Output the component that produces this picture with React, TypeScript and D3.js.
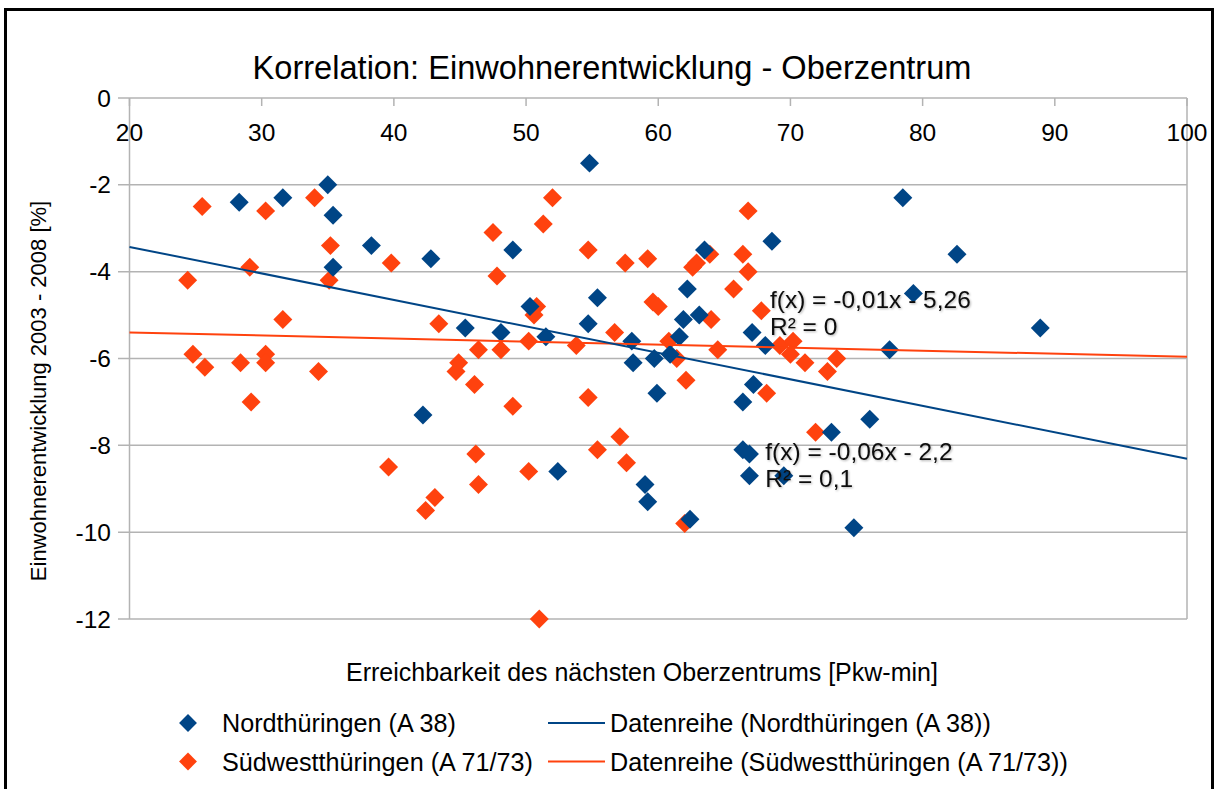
import React from "react";
import * as d3 from "d3";

const chartTitle = "Korrelation: Einwohnerentwicklung - Oberzentrum";
const xTitle = "Erreichbarkeit des nächsten Oberzentrums [Pkw-min]";
const yTitle = "Einwohnerentwicklung 2003 - 2008 [%]";
const xTicks = [20, 30, 40, 50, 60, 70, 80, 90, 100];
const yTicks = [0, -2, -4, -6, -8, -10, -12];

const seriesNames = ["Nordthüringen (A 38)", "Südwestthüringen (A 71/73)"];
const trendNames = ["Datenreihe (Nordthüringen (A 38))", "Datenreihe (Südwestthüringen (A 71/73))"];
const seriesColors = ["#004586", "#ff420e"];

const nordX = [28.3, 31.6, 35.0, 35.4, 38.3, 35.4, 42.8, 49.0, 54.8, 55.4, 50.3, 45.4, 48.1, 54.7, 51.5, 58.0, 58.1, 59.7, 60.9, 61.6, 61.9, 63.1, 62.2, 63.5, 59.9, 42.2, 52.4, 59.0, 59.2, 62.4, 68.6, 67.1, 68.1, 67.2, 66.4, 66.4, 66.9, 66.9, 69.5, 73.1, 76.0, 74.8, 77.5, 78.5, 79.3, 82.6, 88.9];
const nordY = [-2.4, -2.3, -2.0, -2.7, -3.4, -3.9, -3.7, -3.5, -1.5, -4.6, -4.8, -5.3, -5.4, -5.2, -5.5, -5.6, -6.1, -6.0, -5.9, -5.5, -5.1, -5.0, -4.4, -3.5, -6.8, -7.3, -8.6, -8.9, -9.3, -9.7, -3.3, -5.4, -5.7, -6.6, -7.0, -8.1, -8.2, -8.7, -8.7, -7.7, -7.4, -9.9, -5.8, -2.3, -4.5, -3.6, -5.3];

const suedX = [25.5, 30.3, 34.0, 35.2, 39.8, 29.1, 35.1, 24.4, 31.6, 24.8, 25.7, 28.4, 30.3, 30.3, 34.3, 29.2, 39.6, 52.0, 51.3, 47.5, 54.7, 57.5, 59.2, 47.8, 59.6, 60.0, 50.8, 50.6, 43.4, 56.7, 50.2, 53.8, 60.8, 46.4, 48.1, 61.4, 44.9, 44.7, 46.1, 62.1, 54.7, 49.0, 57.1, 55.4, 46.2, 57.6, 50.2, 46.4, 43.1, 42.4, 62.0, 51.0, 66.8, 62.6, 62.9, 63.9, 66.4, 66.8, 65.7, 67.8, 64.0, 64.5, 69.2, 70.2, 70.0, 71.1, 73.5, 72.8, 68.2, 71.9];
const suedY = [-2.5, -2.6, -2.3, -3.4, -3.8, -3.9, -4.2, -4.2, -5.1, -5.9, -6.2, -6.1, -5.9, -6.1, -6.3, -7.0, -8.5, -2.3, -2.9, -3.1, -3.5, -3.8, -3.7, -4.1, -4.7, -4.8, -4.8, -5.0, -5.2, -5.4, -5.6, -5.7, -5.6, -5.8, -5.8, -6.0, -6.1, -6.3, -6.6, -6.5, -6.9, -7.1, -7.8, -8.1, -8.2, -8.4, -8.6, -8.9, -9.2, -9.5, -9.8, -12.0, -2.6, -3.9, -3.8, -3.6, -3.6, -4.0, -4.4, -4.9, -5.1, -5.8, -5.7, -5.6, -5.9, -6.1, -6.0, -6.3, -6.8, -7.7];

const trendSlopes = [-0.061, -0.007];
const trendIntercepts = [-2.21, -5.26];
const equationLines = [
  ["f(x) = -0,06x - 2,2", "R² = 0,1"],
  ["f(x) = -0,01x - 5,26", "R² = 0"],
];
const equationAnchors = [
  [68.1, -8.15],
  [68.45, -4.65],
];

const FONT = "'Liberation Sans', Arial, Helvetica, sans-serif";

export default function App() {
  const x = d3.scaleLinear().domain([20, 100]).range([129.5, 1187]);
  const y = d3.scaleLinear().domain([-12, 0]).range([619, 98]);
  const diamond = d3.symbol().type(d3.symbolSquare).size(180)() as string;
  const legendDiamond = d3.symbol().type(d3.symbolSquare).size(160)() as string;
  const grid = "#b3b3b3";

  const series = [
    { xs: nordX, ys: nordY },
    { xs: suedX, ys: suedY },
  ];
  const drawOrder = [1, 0];

  return (
    <svg
      width={1219}
      height={789}
      style={{ position: "absolute", left: 0, top: 0, background: "#fff" }}
      fontFamily={FONT}
    >
      <defs>
        <filter id="txtShadow" x="-5%" y="-20%" width="110%" height="140%">
          <feDropShadow dx="1" dy="1" stdDeviation="0.8" floodColor="#000" floodOpacity="0.3" />
        </filter>
      </defs>
      <rect x={0} y={0} width={1219} height={789} fill="#fff" />
      <rect x={5.5} y={9.5} width={1207} height={800} fill="none" stroke="#000" strokeWidth={3} />

      <text x={612} y={67} textAnchor="middle" dominantBaseline="central" fontSize={32.6} fill="#000">
        {chartTitle}
      </text>

      {/* gridlines */}
      {yTicks.map((t) => (
        <line key={"g" + t} x1={118} x2={x(100)} y1={y(t)} y2={y(t)} stroke={grid} strokeWidth={1.5} />
      ))}
      <line x1={x(20)} x2={x(20)} y1={y(0)} y2={y(-12)} stroke={grid} strokeWidth={1.5} />
      <line x1={x(100)} x2={x(100)} y1={y(0)} y2={y(-12)} stroke={grid} strokeWidth={1.5} />
      {xTicks.map((t) => (
        <line key={"xt" + t} x1={x(t)} x2={x(t)} y1={y(0)} y2={y(0) + 8} stroke={grid} strokeWidth={1.5} />
      ))}

      {/* tick labels */}
      {yTicks.map((t) => (
        <text key={"yl" + t} x={111} y={y(t)} textAnchor="end" dominantBaseline="central" fontSize={24.5} fill="#000">
          {t === 0 ? "0" : "-" + Math.abs(t)}
        </text>
      ))}
      {xTicks.map((t) => (
        <text key={"xl" + t} x={x(t)} y={132} textAnchor="middle" dominantBaseline="central" fontSize={24.5} fill="#000">
          {t}
        </text>
      ))}

      {/* points */}
      {drawOrder.map((si) =>
        series[si].xs.map((xv, i) => (
          <path
            key={"p" + si + "-" + i}
            d={diamond}
            transform={`translate(${x(xv)},${y(series[si].ys[i])}) rotate(45)`}
            fill={seriesColors[si]}
          />
        ))
      )}

      {/* trend lines */}
      {[1, 0].map((si) => (
        <line
          key={"tr" + si}
          x1={x(20)}
          x2={x(100)}
          y1={y(trendSlopes[si] * 20 + trendIntercepts[si])}
          y2={y(trendSlopes[si] * 100 + trendIntercepts[si])}
          stroke={seriesColors[si]}
          strokeWidth={2}
        />
      ))}

      {/* equations */}
      {equationLines.map((lines, si) => (
        <g key={"eq" + si} filter="url(#txtShadow)">
          {lines.map((ln, j) => (
            <text
              key={j}
              x={x(equationAnchors[si][0])}
              y={y(equationAnchors[si][1]) + j * 27}
              dominantBaseline="central"
              fontSize={24.5}
              fill="#111"
            >
              {ln}
            </text>
          ))}
        </g>
      ))}

      {/* axis titles */}
      <text x={346} y={672} dominantBaseline="central" fontSize={25} fill="#000">
        {xTitle}
      </text>
      <text
        transform={`translate(38,${391}) rotate(-90)`}
        textAnchor="middle"
        dominantBaseline="central"
        fontSize={22}
        fill="#000"
      >
        {yTitle}
      </text>

      {/* legend */}
      {seriesNames.map((nm, i) => {
        const ly = 723 + i * 38.5;
        return (
          <g key={"lg" + i}>
            <path d={legendDiamond} transform={`translate(188,${ly}) rotate(45)`} fill={seriesColors[i]} />
            <text x={222} y={ly} dominantBaseline="central" fontSize={25.2} fill="#000">
              {nm}
            </text>
            <line x1={548} x2={605} y1={ly} y2={ly} stroke={seriesColors[i]} strokeWidth={2} />
            <text x={610} y={ly} dominantBaseline="central" fontSize={25.2} fill="#000">
              {trendNames[i]}
            </text>
          </g>
        );
      })}
    </svg>
  );
}
